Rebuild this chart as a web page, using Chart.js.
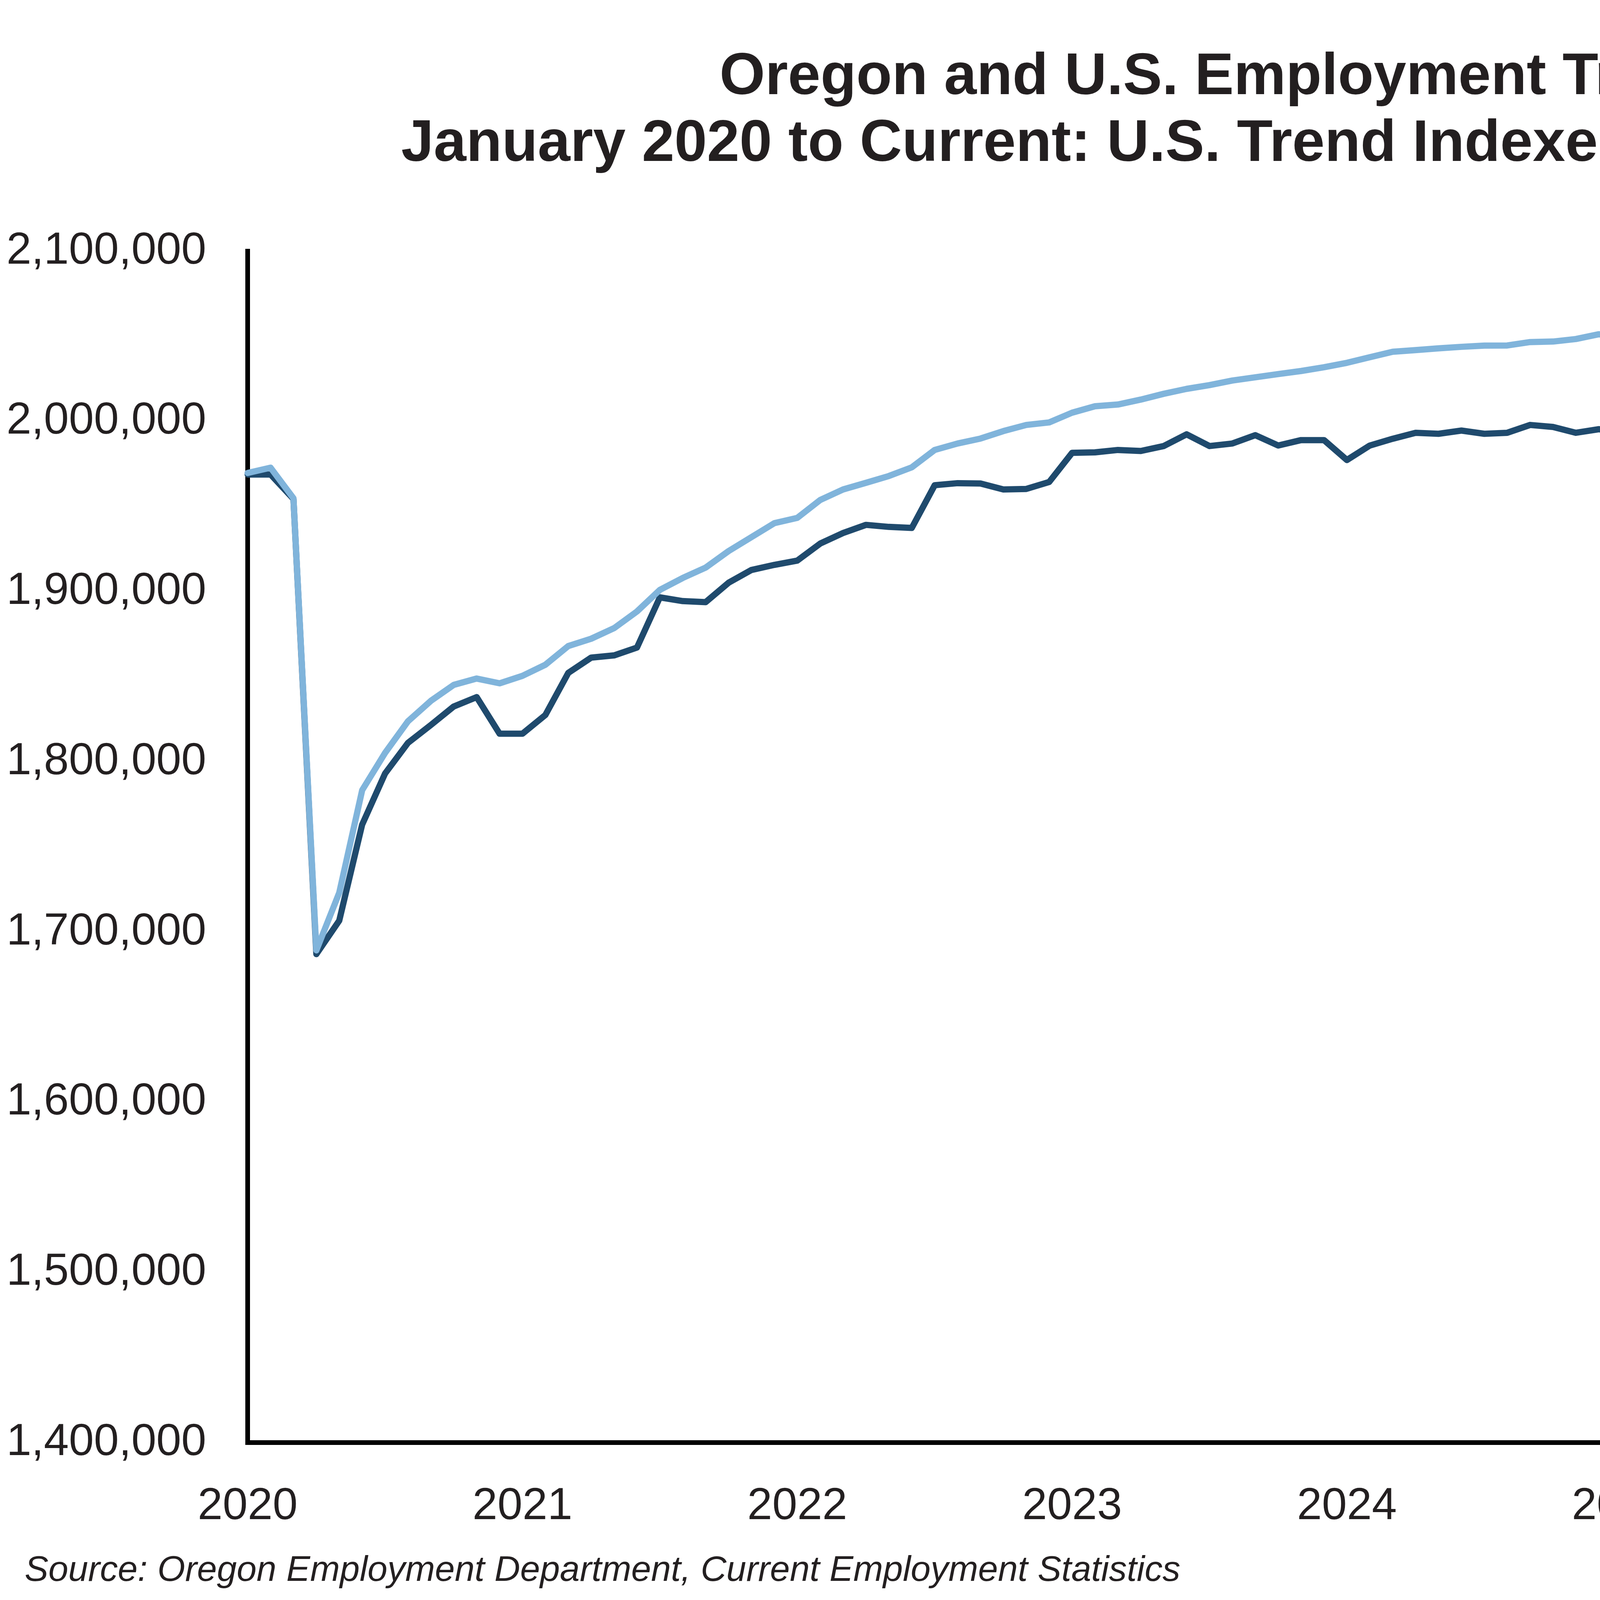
<!DOCTYPE html>
<html><head><meta charset="utf-8">
<script src="https://cdn.jsdelivr.net/npm/chart.js@4.4.1/dist/chart.umd.min.js"></script>
<style>html,body{margin:0;padding:0;background:#fff;}canvas{display:block;}</style>
</head><body>
<canvas id="c" width="5683" height="4113" style="width:5683px;height:4113px"></canvas>
<script>
const years = [2020, 2021, 2022, 2023, 2024, 2025, 2026];
const monthNames = ['Jan','Feb','Mar','Apr','May','Jun','Jul','Aug','Sep','Oct','Nov','Dec'];
const yTickMin = 1400000;
const yTickMax = 2100000;
const yTickStep = 100000;

const oregon = [
  1968800, 1968800, 1954400, 1687000, 1706700, 1763100, 1793100, 1811100, 1821600, 1832500, 1838000, 1816500,
  1816500, 1827500, 1852200, 1861200, 1862500, 1867100, 1896600, 1894400, 1893800, 1905200, 1912700, 1915700,
  1918200, 1928200, 1934400, 1939200, 1938000, 1937400, 1962500, 1963700, 1963500, 1960000, 1960300, 1964400,
  1981500, 1981800, 1983200, 1982600, 1985500, 1992400, 1985500, 1987000, 1991900, 1985800, 1989000, 1989000,
  1977300, 1985800, 1989800, 1993300, 1992700, 1994600, 1992700, 1993300, 1997900, 1996700, 1993300, 1995400,
  1993400, 1986500, 1984500, 1987200, 1986500, 1984100, 1981500, 1981000, 1975700, 1970500, 1972300, 1972500,
  1974300
];
const usTrend = [
  1969700, 1972800, 1954800, 1689200, 1723100, 1783300, 1805200, 1823800, 1835800, 1845200, 1848900, 1846100,
  1850500, 1857000, 1868000, 1872300, 1878500, 1888300, 1901000, 1908000, 1914100, 1923800, 1932000, 1940200,
  1943300, 1953800, 1960000, 1963900, 1967900, 1973000, 1983200, 1987000, 1989900, 1994300, 1997900, 1999400,
  2005100, 2008900, 2009900, 2012800, 2016200, 2019100, 2021300, 2024000, 2025900, 2027800, 2029600, 2031800,
  2034400, 2037700, 2040900, 2041900, 2042900, 2043800, 2044500, 2044600, 2046600, 2046900, 2048400, 2051200,
  2050800, 2051200, 2052100, 2053400, 2053400, 2053200, 2054100, 2052500, 2053400, 2051500, 2052100, 2052000,
  2053700
];
const titleLines = ['Oregon and U.S. Employment Trends*', 'January 2020 to Current: U.S. Trend Indexed to January 2020'];
const sourceNote = 'Source: Oregon Employment Department, Current Employment Statistics';
const seasonalNote = '* Seasonally Adjusted';
const seriesNames = ['U.S. Trend', 'Oregon'];

const labels = [];
years.forEach(y => monthNames.forEach(m => labels.push(m + ' ' + y)));

const FONT = '"Liberation Sans", Arial, Helvetica, sans-serif';
const TEXT = '#231F20';
const OREGON_C = '#1F4A6D';
const US_C = '#80B4DB';

function fitText(ctx, text, style, left, right, baseline, color) {
  ctx.save();
  ctx.font = style + ' 100px ' + FONT;
  const w = ctx.measureText(text).width;
  const size = 100 * (right - left) / w;
  ctx.font = style + ' ' + size.toFixed(2) + 'px ' + FONT;
  ctx.fillStyle = color;
  ctx.textAlign = 'left';
  ctx.textBaseline = 'alphabetic';
  ctx.fillText(text, left, baseline);
  ctx.restore();
}

const textPlugin = {
  id: 'texts',
  afterDraw(chart) {
    const ctx = chart.ctx;
    fitText(ctx, titleLines[0], 'bold', 1842, 4550, 241, TEXT);
    fitText(ctx, titleLines[1], 'bold', 1027, 5356, 412, TEXT);
    fitText(ctx, seriesNames[0], 'bold', 4262, 4838, 737, US_C);
    fitText(ctx, seriesNames[1], 'bold', 4403, 4811, 1358, OREGON_C);
    fitText(ctx, sourceNote, 'italic', 63, 3022, 4047, TEXT);
    fitText(ctx, seasonalNote, 'italic', 4470, 5352, 4069, TEXT);
  }
};

new Chart(document.getElementById('c'), {
  type: 'line',
  data: {
    labels: labels,
    datasets: [
      { label: seriesNames[0], data: usTrend, borderColor: US_C, borderWidth: 16, pointRadius: 0, tension: 0,
        fill: false, borderJoinStyle: 'round', borderCapStyle: 'round' },
      { label: seriesNames[1], data: oregon, borderColor: OREGON_C, borderWidth: 16, pointRadius: 0, tension: 0,
        fill: false, borderJoinStyle: 'round', borderCapStyle: 'round' }
    ]
  },
  options: {
    responsive: false,
    animation: false,
    devicePixelRatio: 1,
    layout: { padding: { left: 0, right: 183, top: 643, bottom: 0 } },
    plugins: { legend: { display: false }, tooltip: { enabled: false }, title: { display: false } },
    scales: {
      x: {
        type: 'category',
        offset: false,
        grid: { display: false, drawTicks: false },
        border: { display: true, color: '#000', width: 12 },
        ticks: {
          autoSkip: false, maxRotation: 0, minRotation: 0, padding: 95,
          color: TEXT, font: { family: FONT, size: 115 },
          callback: function(v, i) { const l = labels[i]; return l.startsWith('Jan') ? l.slice(4) : ''; }
        },
        afterFit: function(s) { s.height = 420; }
      },
      y: {
        min: yTickMin, max: yTickMax,
        grid: { display: false, drawTicks: false },
        border: { display: true, color: '#000', width: 12 },
        ticks: {
          stepSize: yTickStep, padding: 106, color: TEXT, font: { family: FONT, size: 115 },
          callback: v => v.toLocaleString('en-US')
        },
        afterFit: function(s) { s.width = 634; }
      }
    }
  },
  plugins: [textPlugin]
});
</script>
</body></html>
